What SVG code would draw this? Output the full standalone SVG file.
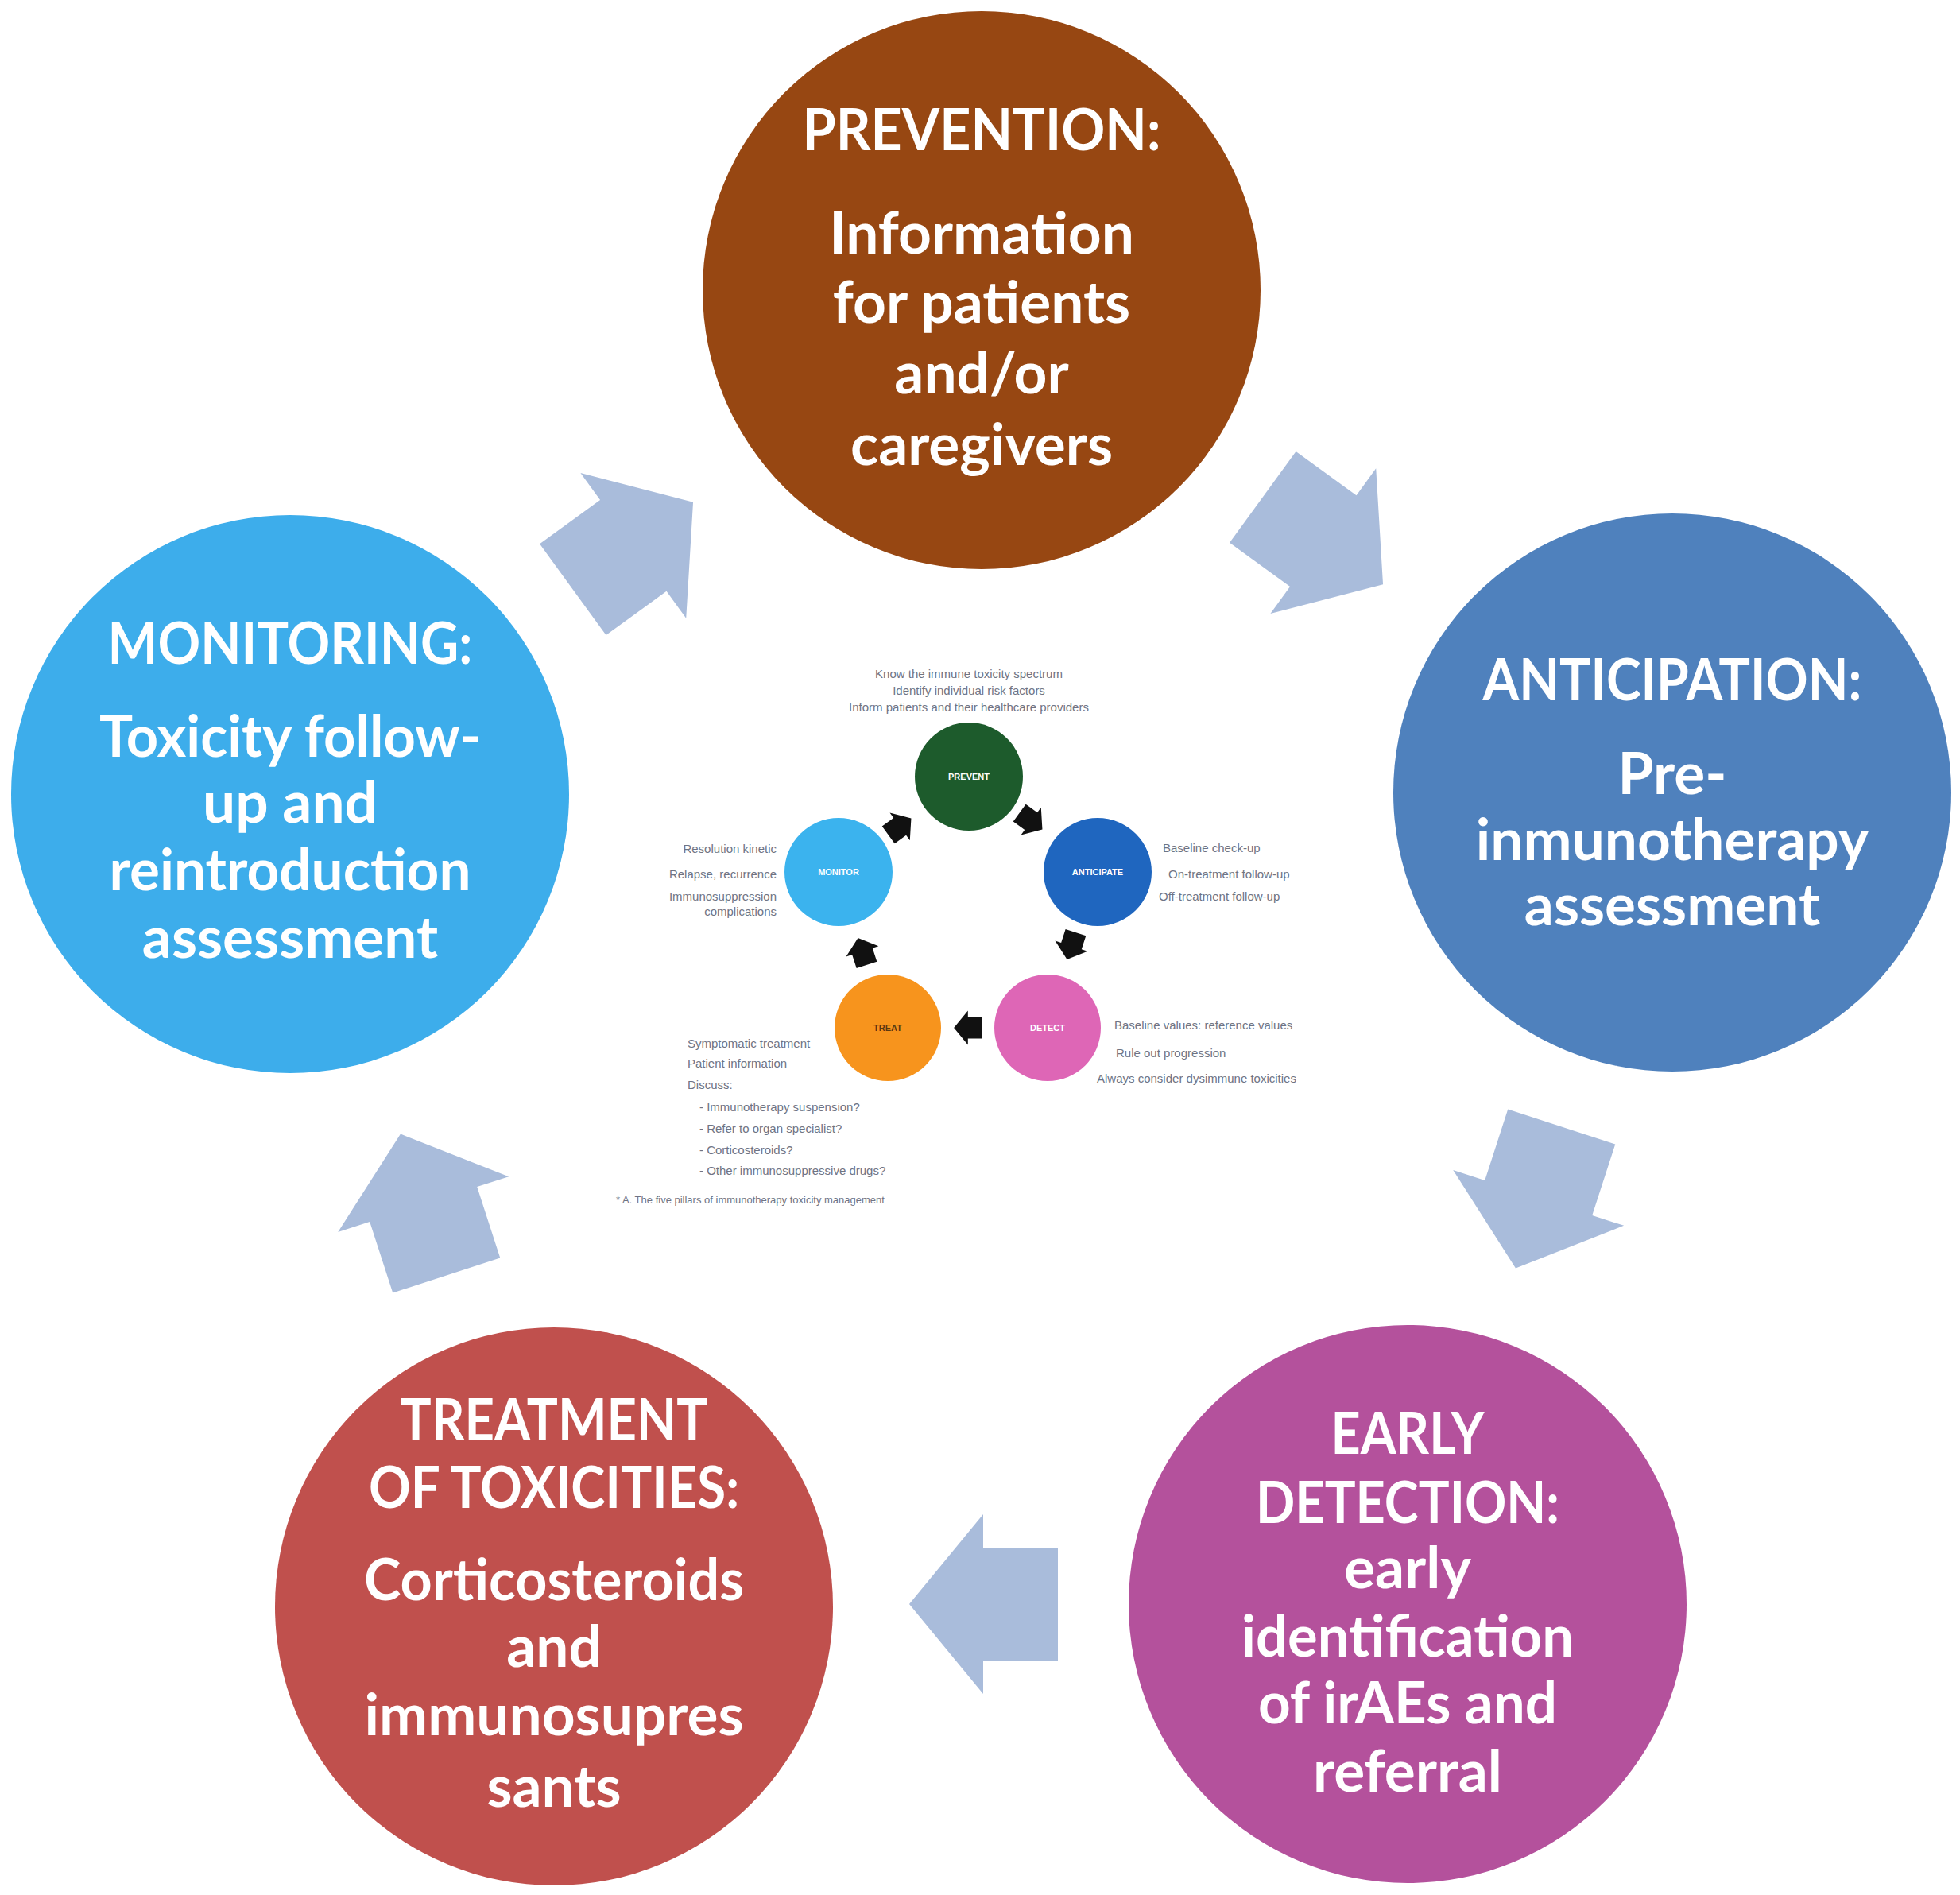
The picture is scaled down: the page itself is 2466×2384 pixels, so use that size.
<svg xmlns="http://www.w3.org/2000/svg" width="2466" height="2384" viewBox="0 0 2466 2384">
<defs>
<style>
.big{font-family:Lato,"Open Sans","Liberation Sans",sans-serif;font-weight:700;font-size:73px;fill:#ffffff;text-anchor:middle}
.sm{font-family:"Liberation Sans",Arial,sans-serif;font-size:15px;fill:#6f7484}
.lab{font-family:"Liberation Sans",Arial,sans-serif;font-size:11px;font-weight:700;fill:#ffffff;text-anchor:middle}
.arrow{fill:#A9BCDB}
.sarrow{fill:#111111}
</style>
<polygon id="blk" points="-93,-71 1,-71 1,-113 94,0 1,113 1,71 -93,71"/>
</defs>
<rect width="2466" height="2384" fill="#ffffff"/>

<g id="connectors">
<use href="#blk" class="arrow" transform="translate(796,687) rotate(-36)"/>
<use href="#blk" class="arrow" transform="translate(1664,680) rotate(36)"/>
<use href="#blk" class="arrow" transform="translate(1936,1506) rotate(108)"/>
<use href="#blk" class="arrow" transform="translate(1238,2018) rotate(180)"/>
<use href="#blk" class="arrow" transform="translate(533,1516) rotate(-108)"/>
</g>

<g id="prevention">
<circle cx="1235" cy="365" r="351" fill="#974712"/>
<text class="big" x="1235" y="189" textLength="451" lengthAdjust="spacingAndGlyphs">PREVENTION:</text>
<text class="big" x="1235" y="319">Information</text>
<text class="big" x="1235" y="406">for patients</text>
<text class="big" x="1235" y="495">and/or</text>
<text class="big" x="1235" y="585">caregivers</text>
</g>

<g id="anticipation">
<circle cx="2104" cy="997" r="351" fill="#4F81BD"/>
<text class="big" x="2104" y="881" textLength="477" lengthAdjust="spacingAndGlyphs">ANTICIPATION:</text>
<text class="big" x="2104" y="999">Pre-</text>
<text class="big" x="2104" y="1082">inmunotherapy</text>
<text class="big" x="2104" y="1164">assessment</text>
</g>

<g id="detection">
<circle cx="1771" cy="2018" r="351" fill="#B4519C"/>
<text class="big" x="1771" y="1829" textLength="193" lengthAdjust="spacingAndGlyphs">EARLY</text>
<text class="big" x="1771" y="1916" textLength="382" lengthAdjust="spacingAndGlyphs">DETECTION:</text>
<text class="big" x="1771" y="1998">early</text>
<text class="big" x="1771" y="2084" textLength="418" lengthAdjust="spacingAndGlyphs">identification</text>
<text class="big" x="1771" y="2168" textLength="376" lengthAdjust="spacingAndGlyphs">of irAEs and</text>
<text class="big" x="1771" y="2254">referral</text>
</g>

<g id="treatment">
<circle cx="697" cy="2021" r="351" fill="#C0504D"/>
<text class="big" x="697" y="1812" textLength="387" lengthAdjust="spacingAndGlyphs">TREATMENT</text>
<text class="big" x="697" y="1897" textLength="466" lengthAdjust="spacingAndGlyphs">OF TOXICITIES:</text>
<text class="big" x="697" y="2013" textLength="478" lengthAdjust="spacingAndGlyphs">Corticosteroids</text>
<text class="big" x="697" y="2097">and</text>
<text class="big" x="697" y="2183">immunosupres</text>
<text class="big" x="697" y="2273">sants</text>
</g>

<g id="monitoring">
<circle cx="365" cy="999" r="351" fill="#3DADEB"/>
<text class="big" x="365" y="835" textLength="459" lengthAdjust="spacingAndGlyphs">MONITORING:</text>
<text class="big" x="365" y="952" textLength="480" lengthAdjust="spacingAndGlyphs">Toxicity follow-</text>
<text class="big" x="365" y="1035">up and</text>
<text class="big" x="365" y="1120" textLength="455" lengthAdjust="spacingAndGlyphs">reintroduction</text>
<text class="big" x="365" y="1205">assessment</text>
</g>

<g id="inset">
<g id="inset-arrows">
<use href="#blk" class="sarrow" transform="translate(1297,1033) rotate(36) scale(0.19)"/>
<use href="#blk" class="sarrow" transform="translate(1348,1190) rotate(108) scale(0.19)"/>
<use href="#blk" class="sarrow" transform="translate(1218,1293) rotate(180) scale(0.19)"/>
<use href="#blk" class="sarrow" transform="translate(1085,1197) rotate(-108) scale(0.19)"/>
<use href="#blk" class="sarrow" transform="translate(1132,1040) rotate(-36) scale(0.19)"/>
</g>
<g id="inset-prevent">
<circle cx="1219" cy="977" r="68" fill="#1D5B2C"/>
<text class="lab" x="1219" y="981">PREVENT</text>
<text class="sm" x="1219" y="853" text-anchor="middle">Know the immune toxicity spectrum</text>
<text class="sm" x="1219" y="874" text-anchor="middle">Identify individual risk factors</text>
<text class="sm" x="1219" y="895" text-anchor="middle">Inform patients and their healthcare providers</text>
</g>
<g id="inset-anticipate">
<circle cx="1381" cy="1097" r="68" fill="#1F66BF"/>
<text class="lab" x="1381" y="1101">ANTICIPATE</text>
<text class="sm" x="1463" y="1072">Baseline check-up</text>
<text class="sm" x="1470" y="1105">On-treatment follow-up</text>
<text class="sm" x="1458" y="1133">Off-treatment follow-up</text>
</g>
<g id="inset-detect">
<circle cx="1318" cy="1293" r="67" fill="#DE66B6"/>
<text class="lab" x="1318" y="1297">DETECT</text>
<text class="sm" x="1402" y="1295">Baseline values: reference values</text>
<text class="sm" x="1404" y="1330">Rule out progression</text>
<text class="sm" x="1380" y="1362">Always consider dysimmune toxicities</text>
</g>
<g id="inset-treat">
<circle cx="1117" cy="1293" r="67" fill="#F7941D"/>
<text class="lab" x="1117" y="1297" style="fill:#5a3a12">TREAT</text>
<text class="sm" x="865" y="1318">Symptomatic treatment</text>
<text class="sm" x="865" y="1343">Patient information</text>
<text class="sm" x="865" y="1370">Discuss:</text>
<text class="sm" x="880" y="1398">- Immunotherapy suspension?</text>
<text class="sm" x="880" y="1425">- Refer to organ specialist?</text>
<text class="sm" x="880" y="1452">- Corticosteroids?</text>
<text class="sm" x="880" y="1478">- Other immunosuppressive drugs?</text>
<text class="sm" x="775" y="1514" style="font-size:13px">* A. The five pillars of immunotherapy toxicity management</text>
</g>
<g id="inset-monitor">
<circle cx="1055" cy="1097" r="68" fill="#3BB3EE"/>
<text class="lab" x="1055" y="1101">MONITOR</text>
<text class="sm" x="977" y="1073" text-anchor="end">Resolution kinetic</text>
<text class="sm" x="977" y="1105" text-anchor="end">Relapse, recurrence</text>
<text class="sm" x="977" y="1133" text-anchor="end">Immunosuppression</text>
<text class="sm" x="977" y="1152" text-anchor="end">complications</text>
</g>
</g>
</svg>
